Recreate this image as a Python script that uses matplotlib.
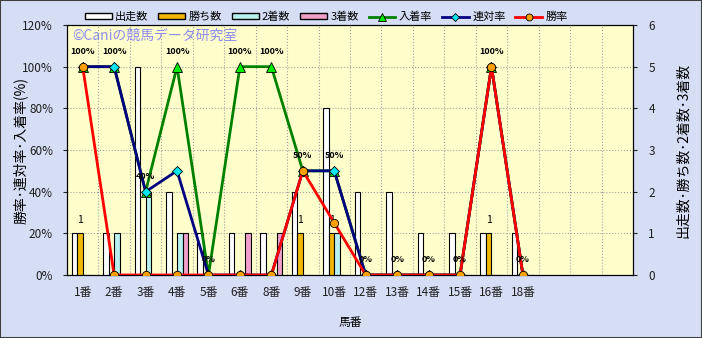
import matplotlib
matplotlib.use("Agg")
import matplotlib.pyplot as plt
from matplotlib.patches import Patch, Rectangle
from matplotlib.lines import Line2D
import numpy as np

plt.rcParams['font.family'] = ['Noto Sans CJK JP', 'DejaVu Sans']

# data
categories = ['1番', '2番', '3番', '4番', '5番', '6番', '8番', '9番', '10番',
              '12番', '13番', '14番', '15番', '16番', '18番']
starts = [1, 1, 5, 2, 1, 1, 1, 2, 4, 2, 2, 1, 1, 1, 1]
wins = [1, 0, 0, 0, 0, 0, 0, 1, 1, 0, 0, 0, 0, 1, 0]
seconds = [0, 1, 2, 1, 0, 0, 0, 0, 1, 0, 0, 0, 0, 0, 0]
thirds = [0, 0, 0, 1, 0, 1, 1, 0, 0, 0, 0, 0, 0, 0, 0]
place_rate = [1.0, 1.0, 0.4, 1.0, 0.0, 1.0, 1.0, 0.5, 0.5, 0.0, 0.0, 0.0, 0.0, 1.0, 0.0]
quinella_rate = [1.0, 1.0, 0.4, 0.5, 0.0, 0.0, 0.0, 0.5, 0.5, 0.0, 0.0, 0.0, 0.0, 1.0, 0.0]
win_rate = [1.0, 0.0, 0.0, 0.0, 0.0, 0.0, 0.0, 0.5, 0.25, 0.0, 0.0, 0.0, 0.0, 1.0, 0.0]
n_slots = 18

bg = '#d6def6'
fig = plt.figure(figsize=(7.02, 3.38), dpi=100, facecolor=bg)
ax = fig.add_axes([0.0954, 0.1864, 0.8063, 0.7396])
ax.set_facecolor('#ffffcc')
x = np.arange(len(categories))

# bars (right axis scale)
bw = 0.175
bar_sets = [(starts, '#ffffff'), (wins, '#f0b800'), (seconds, '#b8f0f0'), (thirds, '#f0a0c8')]
for i, (vals, col) in enumerate(bar_sets):
    ax.bar(x + (i - 1.5) * bw, vals, width=bw, color=col, edgecolor='black',
           linewidth=0.8, zorder=3)
for xi, w in zip(x, wins):
    if w > 0:
        ax.text(xi - 0.5 * bw, w + 0.2, str(w), ha='center', va='bottom', fontsize=7.5, zorder=4)

ax.set_xlim(-0.5, n_slots - 0.5)
ax.set_ylim(0, 6)
ax.set_yticks(range(7))
ax.set_xticks(x)
ax.set_xticklabels(categories, fontsize=8.5)
ax.tick_params(axis='x', length=0, pad=8, colors='#202020')
ax.set_xticks(np.arange(-0.5, n_slots, 1), minor=True)
ax.tick_params(axis='x', which='minor', length=0)
ax.grid(True, which='minor', axis='x', color='#a0a0a0', linestyle=':', linewidth=0.8, zorder=0)
ax.grid(True, which='major', axis='y', color='#a0a0a0', linestyle=':', linewidth=0.8, zorder=0)
ax.set_axisbelow(True)
ax.set_xlabel('馬番', fontsize=8.5, labelpad=12)
for s in ax.spines.values():
    s.set_color('black')

# lines (left axis)
ax2 = ax.twinx()
ax2.patch.set_visible(False)
ax2.grid(False)
ax2.set_ylim(0, 1.2)
ax2.set_yticks(np.arange(0, 1.21, 0.2))
ax2.set_yticklabels([f'{int(round(v * 100))}%' for v in np.arange(0, 1.21, 0.2)])
ax2.yaxis.tick_left()
ax2.yaxis.set_label_position('left')
ax2.tick_params(axis='y', length=3, labelsize=8.5, colors='#202020', pad=7)
ax2.set_ylabel('勝率･連対率･入着率(%)', fontsize=10)
ax2.yaxis.set_label_coords(-0.07, 0.5)

ax.yaxis.tick_right()
ax.yaxis.set_label_position('right')
ax.tick_params(axis='y', length=3, labelsize=8.5, colors='#202020', pad=8)
ax.set_ylabel('出走数･勝ち数･2着数･3着数', fontsize=10)
ax.yaxis.set_label_coords(1.076, 0.5)

ax2.plot(x, place_rate, color='#008000', linewidth=2, marker='^', markersize=7,
         markerfacecolor='#00ee00', markeredgecolor='black', markeredgewidth=0.6, zorder=5)
ax2.plot(x, quinella_rate, color='#000080', linewidth=2, marker='D', markersize=5,
         markerfacecolor='#00e8f0', markeredgecolor='black', markeredgewidth=0.6, zorder=6)
ax2.plot(x, win_rate, color='#ff0000', linewidth=2, marker='o', markersize=6,
         markerfacecolor='#ffa000', markeredgecolor='black', markeredgewidth=0.6, zorder=7)
for xi, v in zip(x, place_rate):
    ax2.annotate(f'{int(round(v * 100))}%', (xi, v), xytext=(0, 8), textcoords='offset points',
                 ha='center', va='bottom', fontsize=6.5, fontweight='bold', zorder=8)

ax2.text(0.01, 0.985, '©Caniの競馬データ研究室', transform=ax2.transAxes, ha='left', va='top',
         fontsize=10, color='#8c8cf0', zorder=9)

# legend
handles = [
    Patch(facecolor='#ffffff', edgecolor='black', label='出走数'),
    Patch(facecolor='#f0b800', edgecolor='black', label='勝ち数'),
    Patch(facecolor='#b8f0f0', edgecolor='black', label='2着数'),
    Patch(facecolor='#f0a0c8', edgecolor='black', label='3着数'),
    Line2D([], [], color='#008000', linewidth=2, marker='^', markersize=6,
           markerfacecolor='#00ee00', markeredgecolor='black', markeredgewidth=0.6, label='入着率'),
    Line2D([], [], color='#000080', linewidth=2, marker='D', markersize=4,
           markerfacecolor='#00e8f0', markeredgecolor='black', markeredgewidth=0.6, label='連対率'),
    Line2D([], [], color='#ff0000', linewidth=2, marker='o', markersize=5,
           markerfacecolor='#ffa000', markeredgecolor='black', markeredgewidth=0.6, label='勝率'),
]
fig.legend(handles=handles, loc='center', bbox_to_anchor=(0.465, 0.95), ncol=7, frameon=False,
           fontsize=8, handlelength=2.4, handleheight=0.5, handletextpad=0.3, columnspacing=0.9)

fig.patches.append(Rectangle((0, 0), 1, 1, transform=fig.transFigure, fill=False,
                             edgecolor='#404040', linewidth=1.5))

fig.savefig('out.png', dpi=100, facecolor=bg)
